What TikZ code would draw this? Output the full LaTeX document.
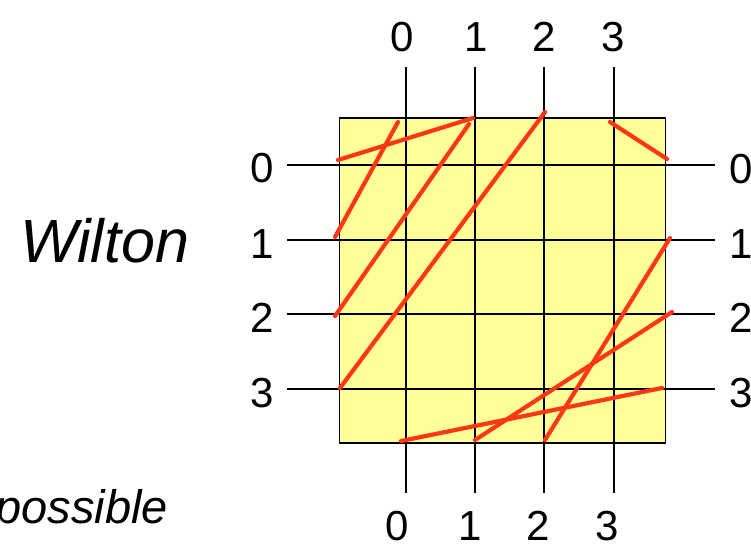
\documentclass[tikz,border=0pt]{standalone}
\usepackage{fontspec}
\setmainfont{Liberation Sans}
\begin{document}
\begin{tikzpicture}[x=1pt,y=-1pt,
  grid/.style={line width=1.8pt,black},
  wire/.style={line width=4.2pt,draw={rgb,255:red,255;green,55;blue,20},line cap=round},
  lab/.style={inner sep=0pt,font=\fontsize{42}{42}\selectfont},
  big/.style={inner sep=0pt,font=\fontsize{61}{61}\selectfont\itshape}]
\useasboundingbox (0,0) rectangle (751,544);
% box
\node[draw,line width=1.8pt,fill={rgb,255:red,255;green,255;blue,153},minimum width=326pt,minimum height=325pt,inner sep=0pt,anchor=north west] (box) at (338.5,117) {};
% grid line ends
\foreach \i/\x in {0/406,1/475,2/544,3/614}{
  \coordinate (t\i) at (\x,67);
  \coordinate (b\i) at (\x,493);
  \draw[grid] (t\i) -- (b\i);
}
\foreach \i/\y in {0/165,1/240,2/314,3/389}{
  \coordinate (l\i) at (287,\y);
  \coordinate (r\i) at (715,\y);
  \draw[grid] (l\i) -- (r\i);
}
% labels
\node[lab] (T0) at (402,37) {0};
\node[lab] (T1) at (476,37) {1};
\node[lab] (T2) at (544,37) {2};
\node[lab] (T3) at (613,37) {3};
\node[lab] (B0) at (397,526) {0};
\node[lab] (B1) at (470,526) {1};
\node[lab] (B2) at (538,526) {2};
\node[lab] (B3) at (607,526) {3};
\node[lab] (L0) at (262,168) {0};
\node[lab] (L1) at (262,244) {1};
\node[lab] (L2) at (262,318) {2};
\node[lab] (L3) at (262,393) {3};
\node[lab] (R0) at (741,169) {0};
\node[lab] (R1) at (741,244) {1};
\node[lab] (R2) at (741,318) {2};
\node[lab] (R3) at (741,393) {3};
\node[big,anchor=base west] (w) at (20,262) {Wilton};
\node[inner sep=0pt,font=\fontsize{47}{47}\selectfont\itshape,anchor=base east] (p) at (168,523) {possible};
% wires
\coordinate (a1) at (338,160); \coordinate (a2) at (473,118);
\coordinate (c1) at (335,237); \coordinate (c2) at (398,122);
\coordinate (d1) at (335,316); \coordinate (d2) at (469,124);
\coordinate (e1) at (340,388); \coordinate (e2) at (545,112);
\coordinate (f1) at (610,122); \coordinate (f2) at (667,159);
\coordinate (g1) at (670,238); \coordinate (g2) at (545,440);
\coordinate (h1) at (672,312); \coordinate (h2) at (475,440);
\coordinate (k1) at (662,388); \coordinate (k2) at (401,441);
\draw[wire] (a1) -- (a2);
\draw[wire] (c1) -- (c2);
\draw[wire] (d1) -- (d2);
\draw[wire] (e1) -- (e2);
\draw[wire] (f1) -- (f2);
\draw[wire] (g1) -- (g2);
\draw[wire] (h1) -- (h2);
\draw[wire] (k1) -- (k2);
\end{tikzpicture}
\end{document}
